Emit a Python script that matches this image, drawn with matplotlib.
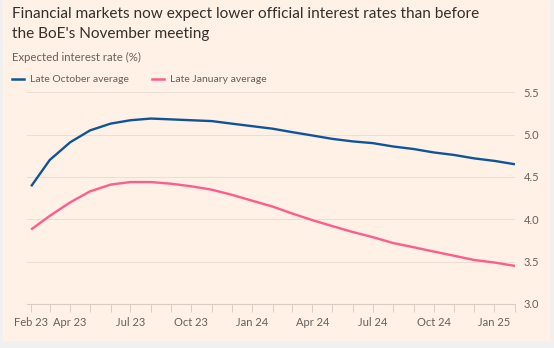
import matplotlib
matplotlib.use("Agg")
import matplotlib.pyplot as plt
import pandas as pd

# Monthly market-implied Bank Rate path, Feb 2023 to Feb 2025
months = pd.date_range("2023-02-01", periods=25, freq="MS")
late_october = [4.39, 4.70, 4.91, 5.05, 5.13, 5.17, 5.19, 5.18, 5.17, 5.16,
                5.13, 5.10, 5.07, 5.03, 4.99, 4.95, 4.92, 4.90, 4.86, 4.83,
                4.79, 4.76, 4.72, 4.69, 4.65]
late_january = [3.88, 4.04, 4.20, 4.33, 4.41, 4.44, 4.44, 4.42, 4.39, 4.35,
                4.29, 4.22, 4.15, 4.07, 3.99, 3.92, 3.85, 3.79, 3.72, 3.67,
                3.62, 3.57, 3.52, 3.49, 3.45]
labelled = ["Feb 23", "Apr 23", "Jul 23", "Oct 23", "Jan 24",
            "Apr 24", "Jul 24", "Oct 24", "Jan 25"]
y_ticks = [3.0, 3.5, 4.0, 4.5, 5.0, 5.5]

BG = "#fff1e5"
GRID = "#ebdfd4"
TEXT = "#33302e"
MUTED = "#66605c"
BLUE = "#0f5499"
PINK = "#ff5c8d"

plt.rcParams["font.family"] = ["Lato", "DejaVu Sans"]

fig = plt.figure(figsize=(5.54, 3.48), dpi=100)
fig.patch.set_facecolor("#f0f0f0")
panel = plt.Rectangle((3 / 554, 8 / 348), 546 / 554, 340 / 348,
                      transform=fig.transFigure, color=BG, zorder=-5)
fig.patches.append(panel)

ax = fig.add_axes([26.5 / 554, 44 / 348, 488.5 / 554, 211.7 / 348])
ax.set_facecolor(BG)

ax.plot(months, late_october, color=BLUE, lw=1.7, solid_joinstyle="round",
        solid_capstyle="butt", zorder=3)
ax.plot(months, late_january, color=PINK, lw=1.7, solid_joinstyle="round",
        solid_capstyle="butt", zorder=3)

ax.set_xlim(months[0] - pd.Timedelta(days=7), months[-1])
ax.set_ylim(3.0, 5.5)

for s in ["top", "left", "right"]:
    ax.spines[s].set_visible(False)
ax.spines["bottom"].set_color("#d9cdc2")
ax.spines["bottom"].set_linewidth(0.8)

ax.yaxis.tick_right()
ax.set_yticks(y_ticks)
ax.set_yticklabels([f"{v:.1f}" for v in y_ticks])
ax.tick_params(axis="y", length=0, pad=6, labelsize=8, labelcolor=MUTED)
ax.grid(axis="y", color=GRID, lw=0.8)
ax.set_axisbelow(True)

ax.set_xticks(months)
ax.set_xticklabels([m.strftime("%b %y") if m.strftime("%b %y") in labelled else ""
                    for m in months])
ax.tick_params(axis="x", length=6, width=0.7, color="#d9cdc2", pad=3,
               labelsize=8, labelcolor=MUTED)

fig.text(12 / 554, 1 - 14 / 348, "Financial markets now expect lower official interest rates than before",
         fontsize=11.1, color=TEXT, va="center")
fig.text(12 / 554, 1 - 34 / 348, "the BoE's November meeting",
         fontsize=11.1, color=TEXT, va="center")
fig.text(12 / 554, 1 - 57 / 348, "Expected interest rate (%)",
         fontsize=8.2, color=MUTED, va="center")

# legend drawn as short dashes with labels
leg_y = 1 - 79 / 348
for x0, col, lab in [(12, BLUE, "Late October average"), (152, PINK, "Late January average")]:
    fig.add_artist(plt.Line2D([x0 / 554, (x0 + 12) / 554], [leg_y, leg_y],
                              color=col, lw=1.8, transform=fig.transFigure))
    fig.text((x0 + 18) / 554, leg_y, lab, fontsize=7.5, color=MUTED, va="center")

fig.savefig("out.png", dpi=100, facecolor=fig.get_facecolor())
